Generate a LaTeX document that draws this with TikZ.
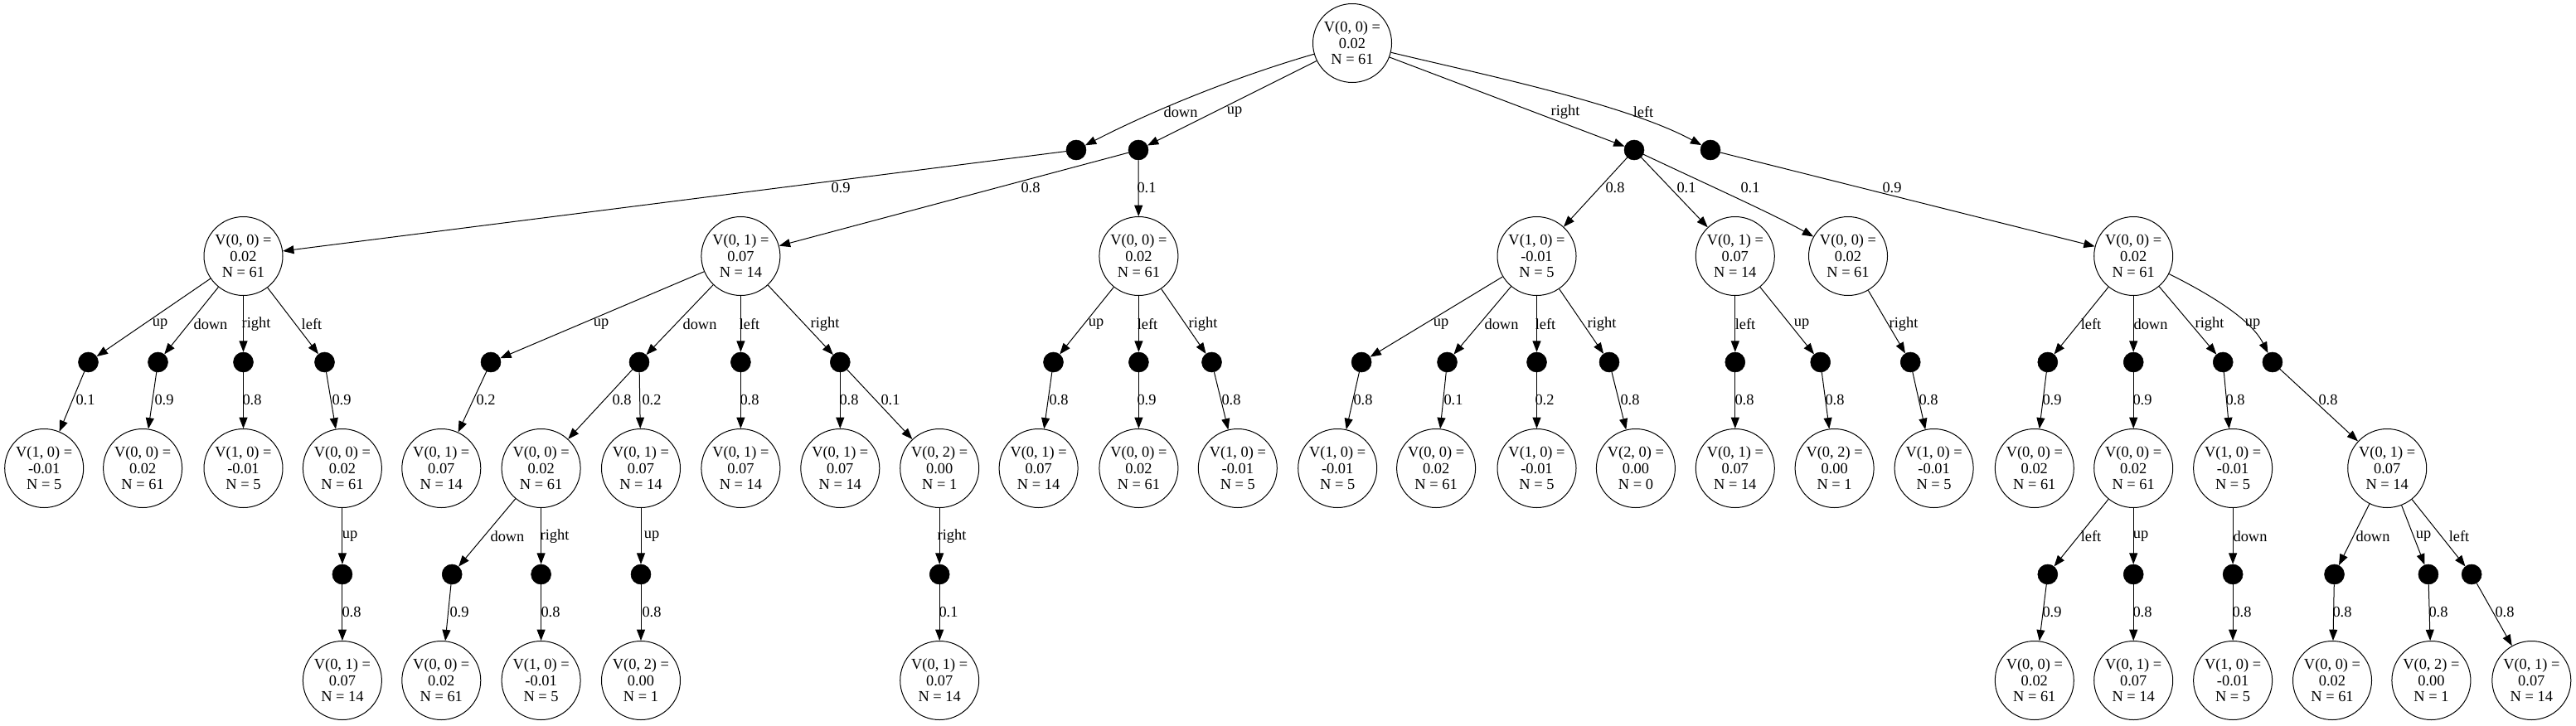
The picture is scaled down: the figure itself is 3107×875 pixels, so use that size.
\documentclass[tikz,border=0pt]{standalone}
\usepackage{fontspec}
\setmainfont{Liberation Serif}
\usetikzlibrary{arrows.meta}
\newcommand\VN[3]{V(#1) =\\#2\\N = #3}
\begin{document}
\begin{tikzpicture}[x=0.75pt,y=-0.75pt,
  st/.style={circle,draw,line width=0.75pt,minimum size=71.25pt,inner sep=0pt,align=center,font=\fontsize{13.8}{14.6}\selectfont},
  ch/.style={circle,fill=black,draw=black,minimum size=18pt,inner sep=0pt},
  arr/.style={line width=0.75pt,-{Triangle[length=10pt,width=7.5pt]}},
  lbl/.style={font=\fontsize{13.8}{14.6}\selectfont,inner sep=0pt}]
\useasboundingbox (0,0) rectangle (3107,875);
% level 0
\node[st] (r) at (1631,52) {\VN{0, 0}{0.02}{61}};
% level 1
\node[ch] (cdn) at (1298,181) {};
\node[ch] (cup) at (1373,181) {};
\node[ch] (crt) at (1971,181) {};
\node[ch] (clf) at (2063,181) {};
% level 2
\node[st] (A) at (293.5,309) {\VN{0, 0}{0.02}{61}};
\node[st] (B) at (893.4,309) {\VN{0, 1}{0.07}{14}};
\node[st] (C) at (1373.4,309) {\VN{0, 0}{0.02}{61}};
\node[st] (D) at (1853.5,309) {\VN{1, 0}{-0.01}{5}};
\node[st] (E) at (2092.8,309) {\VN{0, 1}{0.07}{14}};
\node[st] (F) at (2229,309) {\VN{0, 0}{0.02}{61}};
\node[st] (G) at (2573.2,309) {\VN{0, 0}{0.02}{61}};
% level 3
\node[ch] (Aup) at (106.5,437) {};
\node[ch] (Adn) at (190.5,437) {};
\node[ch] (Art) at (293.5,437) {};
\node[ch] (Alf) at (391.5,437) {};
\node[ch] (Bup) at (592,437) {};
\node[ch] (Bdn) at (771,437) {};
\node[ch] (Blf) at (893.4,437) {};
\node[ch] (Brt) at (1013.3,437) {};
\node[ch] (Cup) at (1270.5,437) {};
\node[ch] (Clf) at (1373.4,437) {};
\node[ch] (Crt) at (1461.5,437) {};
\node[ch] (Dup) at (1642.1,437) {};
\node[ch] (Ddn) at (1745.5,437) {};
\node[ch] (Dlf) at (1853.5,437) {};
\node[ch] (Drt) at (1941,437) {};
\node[ch] (Elf) at (2092.8,437) {};
\node[ch] (Eup) at (2195.7,437) {};
\node[ch] (Frt) at (2304.2,437) {};
\node[ch] (Glf) at (2469.8,437) {};
\node[ch] (Gdn) at (2573.2,437) {};
\node[ch] (Grt) at (2681.2,437) {};
\node[ch] (Gup) at (2740.9,437) {};
% level 4
\node[st] (a1) at (53.2,565) {\VN{1, 0}{-0.01}{5}};
\node[st] (a2) at (172.1,565) {\VN{0, 0}{0.02}{61}};
\node[st] (a3) at (293.5,565) {\VN{1, 0}{-0.01}{5}};
\node[st] (a4) at (412.9,565) {\VN{0, 0}{0.02}{61}};
\node[st] (b1) at (532.3,565) {\VN{0, 1}{0.07}{14}};
\node[st] (b2) at (652.6,565) {\VN{0, 0}{0.02}{61}};
\node[st] (b3) at (773,565) {\VN{0, 1}{0.07}{14}};
\node[st] (b4) at (893.4,565) {\VN{0, 1}{0.07}{14}};
\node[st] (b5) at (1013.3,565) {\VN{0, 1}{0.07}{14}};
\node[st] (b6) at (1133.2,565) {\VN{0, 2}{0.00}{1}};
\node[st] (c1) at (1252.6,565) {\VN{0, 1}{0.07}{14}};
\node[st] (c2) at (1373.4,565) {\VN{0, 0}{0.02}{61}};
\node[st] (c3) at (1492.8,565) {\VN{1, 0}{-0.01}{5}};
\node[st] (d1) at (1613.2,565) {\VN{1, 0}{-0.01}{5}};
\node[st] (d2) at (1732.1,565) {\VN{0, 0}{0.02}{61}};
\node[st] (d3) at (1853.5,565) {\VN{1, 0}{-0.01}{5}};
\node[st] (d4) at (1972.9,565) {\VN{2, 0}{0.00}{0}};
\node[st] (e1) at (2092.8,565) {\VN{0, 1}{0.07}{14}};
\node[st] (e2) at (2212.6,565) {\VN{0, 2}{0.00}{1}};
\node[st] (f1) at (2332.6,565) {\VN{1, 0}{-0.01}{5}};
\node[st] (g1) at (2453.8,565) {\VN{0, 0}{0.02}{61}};
\node[st] (g2) at (2573.2,565) {\VN{0, 0}{0.02}{61}};
\node[st] (g3) at (2693.1,565) {\VN{1, 0}{-0.01}{5}};
\node[st] (g4) at (2879.2,565) {\VN{0, 1}{0.07}{14}};
% level 5
\node[ch] (a4u) at (412.9,693) {};
\node[ch] (b2d) at (545.2,693) {};
\node[ch] (b2r) at (652.6,693) {};
\node[ch] (b3u) at (773,693) {};
\node[ch] (b6r) at (1133.2,693) {};
\node[ch] (g2l) at (2469.8,693) {};
\node[ch] (g2u) at (2573.2,693) {};
\node[ch] (g3d) at (2693.1,693) {};
\node[ch] (g4d) at (2815.5,693) {};
\node[ch] (g4u) at (2928.9,693) {};
\node[ch] (g4l) at (2981.1,693) {};
% level 6
\node[st] (a4uu) at (412.9,821) {\VN{0, 1}{0.07}{14}};
\node[st] (b2dd) at (532.3,821) {\VN{0, 0}{0.02}{61}};
\node[st] (b2rr) at (652.6,821) {\VN{1, 0}{-0.01}{5}};
\node[st] (b3uu) at (773,821) {\VN{0, 2}{0.00}{1}};
\node[st] (b6rr) at (1133.2,821) {\VN{0, 1}{0.07}{14}};
\node[st] (g2ll) at (2453.8,821) {\VN{0, 0}{0.02}{61}};
\node[st] (g2uu) at (2573.2,821) {\VN{0, 1}{0.07}{14}};
\node[st] (g3dd) at (2693.1,821) {\VN{1, 0}{-0.01}{5}};
\node[st] (g4dd) at (2813,821) {\VN{0, 0}{0.02}{61}};
\node[st] (g4uu) at (2932.4,821) {\VN{0, 2}{0.00}{1}};
\node[st] (g4ll) at (3053.3,821) {\VN{0, 1}{0.07}{14}};
% edges level 0 -> 1
\draw[arr] (r) .. controls (1492,92) and (1391,133) .. (cdn) node[lbl] at (1424,135) {down};
\draw[arr] (r) -- (cup) node[lbl] at (1489,135) {up};
\draw[arr] (r) -- (crt) node[lbl] at (1888,135) {right};
\draw[arr] (r) .. controls (1780,88) and (1960,125) .. (clf) node[lbl] at (1982,135) {left};
% level 1 -> 2
\draw[arr] (cdn) -- (A) node[lbl] at (1014,227) {0.9};
\draw[arr] (cup) -- (B) node[lbl] at (1243,227) {0.8};
\draw[arr] (cup) -- (C) node[lbl] at (1383,227) {0.1};
\draw[arr] (crt) -- (D) node[lbl] at (1948,227) {0.8};
\draw[arr] (crt) -- (E) node[lbl] at (2034,227) {0.1};
\draw[arr] (crt) .. controls (2060,223) and (2140,259) .. (F) node[lbl] at (2111,227) {0.1};
\draw[arr] (clf) -- (G) node[lbl] at (2282,227) {0.9};
% level 2 -> 3
\draw[arr] (A) -- (Aup) node[lbl] at (193,391) {up};
\draw[arr] (A) -- (Adn) node[lbl] at (254,391) {down};
\draw[arr] (A) -- (Art) node[lbl] at (309,391) {right};
\draw[arr] (A) -- (Alf) node[lbl] at (376,391) {left};
\draw[arr] (B) -- (Bup) node[lbl] at (725,391) {up};
\draw[arr] (B) -- (Bdn) node[lbl] at (844,391) {down};
\draw[arr] (B) -- (Blf) node[lbl] at (904,391) {left};
\draw[arr] (B) -- (Brt) node[lbl] at (995,391) {right};
\draw[arr] (C) -- (Cup) node[lbl] at (1322,391) {up};
\draw[arr] (C) -- (Clf) node[lbl] at (1384,391) {left};
\draw[arr] (C) -- (Crt) node[lbl] at (1451,391) {right};
\draw[arr] (D) -- (Dup) node[lbl] at (1738,391) {up};
\draw[arr] (D) -- (Ddn) node[lbl] at (1811,391) {down};
\draw[arr] (D) -- (Dlf) node[lbl] at (1864,391) {left};
\draw[arr] (D) -- (Drt) node[lbl] at (1932,391) {right};
\draw[arr] (E) -- (Elf) node[lbl] at (2105,391) {left};
\draw[arr] (E) -- (Eup) node[lbl] at (2173,391) {up};
\draw[arr] (F) -- (Frt) node[lbl] at (2296,391) {right};
\draw[arr] (G) -- (Glf) node[lbl] at (2522,391) {left};
\draw[arr] (G) -- (Gdn) node[lbl] at (2594,391) {down};
\draw[arr] (G) -- (Grt) node[lbl] at (2665,391) {right};
\draw[arr] (G) .. controls (2665,355) and (2715,385) .. (Gup) node[lbl] at (2717,391) {up};
% level 3 -> 4
\draw[arr] (Aup) -- (a1) node[lbl] at (103,483) {0.1};
\draw[arr] (Adn) -- (a2) node[lbl] at (198,483) {0.9};
\draw[arr] (Art) -- (a3) node[lbl] at (304,483) {0.8};
\draw[arr] (Alf) -- (a4) node[lbl] at (412,483) {0.9};
\draw[arr] (Bup) -- (b1) node[lbl] at (586,483) {0.2};
\draw[arr] (Bdn) -- (b2) node[lbl] at (750,483) {0.8};
\draw[arr] (Bdn) -- (b3) node[lbl] at (786,483) {0.2};
\draw[arr] (Blf) -- (b4) node[lbl] at (904,483) {0.8};
\draw[arr] (Brt) -- (b5) node[lbl] at (1024,483) {0.8};
\draw[arr] (Brt) -- (b6) node[lbl] at (1074,483) {0.1};
\draw[arr] (Cup) -- (c1) node[lbl] at (1277,483) {0.8};
\draw[arr] (Clf) -- (c2) node[lbl] at (1383,483) {0.9};
\draw[arr] (Crt) -- (c3) node[lbl] at (1485,483) {0.8};
\draw[arr] (Dup) -- (d1) node[lbl] at (1644,483) {0.8};
\draw[arr] (Ddn) -- (d2) node[lbl] at (1753,483) {0.1};
\draw[arr] (Dlf) -- (d3) node[lbl] at (1863,483) {0.2};
\draw[arr] (Drt) -- (d4) node[lbl] at (1966,483) {0.8};
\draw[arr] (Elf) -- (e1) node[lbl] at (2104,483) {0.8};
\draw[arr] (Eup) -- (e2) node[lbl] at (2213,483) {0.8};
\draw[arr] (Frt) -- (f1) node[lbl] at (2326,483) {0.8};
\draw[arr] (Glf) -- (g1) node[lbl] at (2475,483) {0.9};
\draw[arr] (Gdn) -- (g2) node[lbl] at (2584,483) {0.9};
\draw[arr] (Grt) -- (g3) node[lbl] at (2696,483) {0.8};
\draw[arr] (Gup) -- (g4) node[lbl] at (2808,483) {0.8};
% level 4 -> 5
\draw[arr] (a4) -- (a4u) node[lbl] at (422,647) {up};
\draw[arr] (b2) -- (b2d) node[lbl] at (612,647) {down};
\draw[arr] (b2) -- (b2r) node[lbl] at (669,647) {right};
\draw[arr] (b3) -- (b3u) node[lbl] at (786,647) {up};
\draw[arr] (b6) -- (b6r) node[lbl] at (1148,647) {right};
\draw[arr] (g2) -- (g2l) node[lbl] at (2522,647) {left};
\draw[arr] (g2) -- (g2u) node[lbl] at (2582,647) {up};
\draw[arr] (g3) -- (g3d) node[lbl] at (2714,647) {down};
\draw[arr] (g4) -- (g4d) node[lbl] at (2862,647) {down};
\draw[arr] (g4) -- (g4u) node[lbl] at (2923,647) {up};
\draw[arr] (g4) -- (g4l) node[lbl] at (2966,647) {left};
% level 5 -> 6
\draw[arr] (a4u) -- (a4uu) node[lbl] at (424,738) {0.8};
\draw[arr] (b2d) -- (b2dd) node[lbl] at (554,738) {0.9};
\draw[arr] (b2r) -- (b2rr) node[lbl] at (664,738) {0.8};
\draw[arr] (b3u) -- (b3uu) node[lbl] at (786,738) {0.8};
\draw[arr] (b6r) -- (b6rr) node[lbl] at (1144,738) {0.1};
\draw[arr] (g2l) -- (g2ll) node[lbl] at (2475,738) {0.9};
\draw[arr] (g2u) -- (g2uu) node[lbl] at (2584,738) {0.8};
\draw[arr] (g3d) -- (g3dd) node[lbl] at (2704,738) {0.8};
\draw[arr] (g4d) -- (g4dd) node[lbl] at (2825,738) {0.8};
\draw[arr] (g4u) -- (g4uu) node[lbl] at (2941,738) {0.8};
\draw[arr] (g4l) -- (g4ll) node[lbl] at (3021,738) {0.8};
\end{tikzpicture}
\end{document}
